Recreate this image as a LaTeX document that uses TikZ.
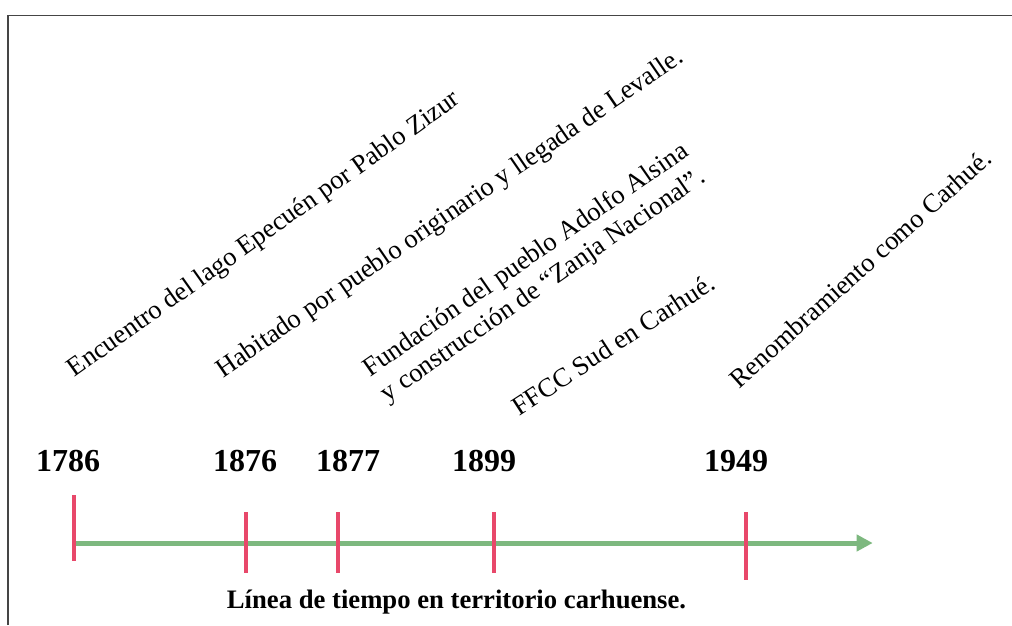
\documentclass[tikz,border=0pt]{standalone}
\usepackage{fontspec}
\setmainfont{Liberation Serif}
\usetikzlibrary{arrows.meta}

\definecolor{tickred}{HTML}{E8486A}
\definecolor{axisgreen}{HTML}{7DB87F}
\definecolor{framegray}{HTML}{454545}

\begin{document}
\begin{tikzpicture}[x=0.75pt, y=-0.75pt,
		event/.style={font=\fontsize{20}{23}\selectfont, inner sep=0pt, anchor=base},
		year/.style={font=\fontsize{24}{28}\selectfont\bfseries, inner sep=0pt, anchor=base},
		yeartick/.style={draw=tickred, line width=3pt},
		axis/.style={draw=axisgreen, line width=3.75pt, -{Triangle[length=12pt, width=12pt]}}]
		\useasboundingbox (0,0) rectangle (1012,625);
		% frame
		\draw[framegray, line width=1.1pt] (8,625) -- (8,15.5) -- (1012,15.5);
		% events
		\node[event, rotate=35.4] (zizur) at (268,240) {Encuentro del lago Epecuén por Pablo Zizur};
		\node[event, rotate=34.5] (levalle) at (454,219.5) {Habitado por pueblo originario y llegada de Levalle.};
		\node[event, rotate=34.8, anchor=center, align=center] (alsina) at (535,273.5) {Fundación del pueblo Adolfo Alsina\\y construcción de “Zanja Nacional”.};
		\node[event, rotate=33] (ffcc) at (618,352) {FFCC Sud en Carhué.};
		\node[event, rotate=41.9] (carhue) at (866.5,275) {Renombramiento como Carhué.};
		% years
		\node[year] (y1786) at (68,471) {1786};
		\node[year] (y1876) at (245,471) {1876};
		\node[year] (y1877) at (348,471) {1877};
		\node[year] (y1899) at (484,471) {1899};
		\node[year] (y1949) at (736,471) {1949};
		% axis
		\coordinate (start) at (76,543);
		\coordinate (end) at (872.7,543);
		\draw[axis] (start) -- (end);
		\draw[yeartick] (74,495) -- (74,561);
		\foreach \x in {246,338,494}
			\draw[yeartick] (\x,512) -- (\x,573);
		\draw[yeartick] (746,512) -- (746,580);
		% caption
		\node[year, font=\fontsize{20}{23}\selectfont\bfseries] (caption) at (456.5,608) {Línea de tiempo en territorio carhuense.};
	\end{tikzpicture}
\end{document}
